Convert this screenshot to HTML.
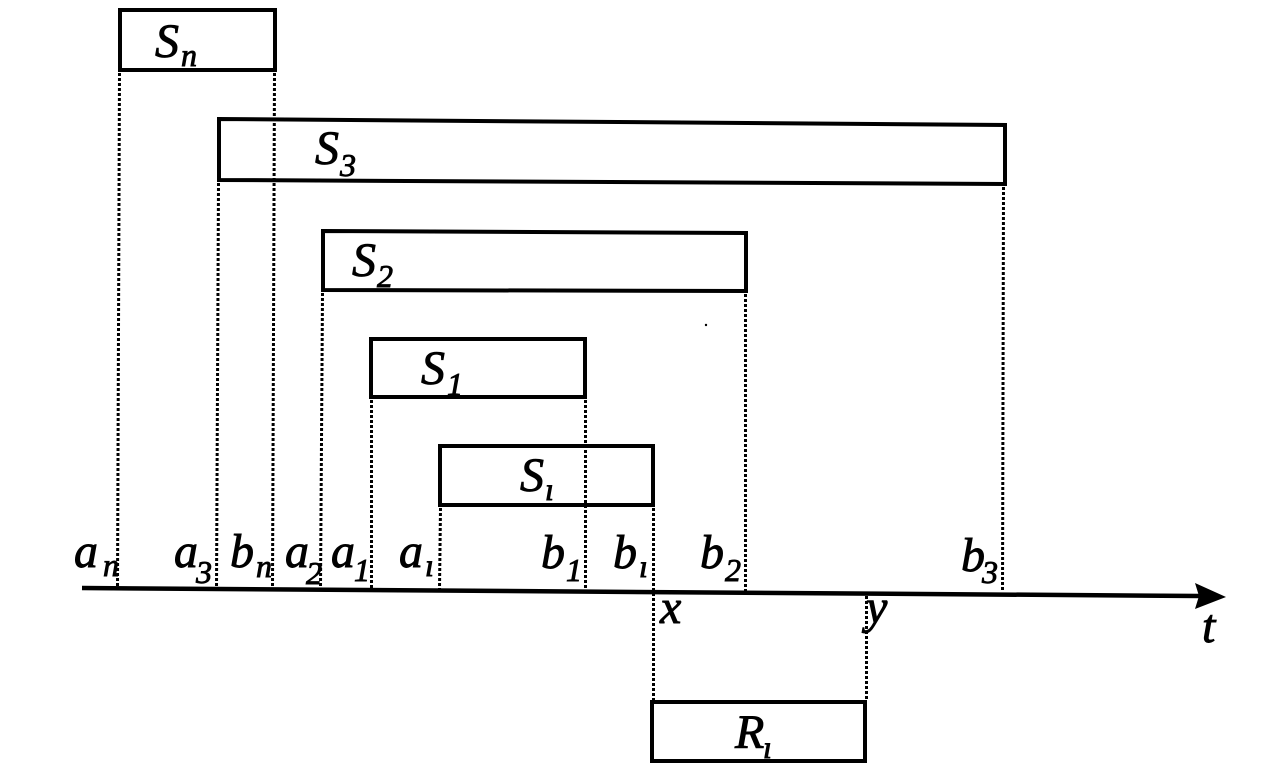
<!DOCTYPE html>
<html>
<head>
<meta charset="utf-8">
<style>
  html, body { margin: 0; padding: 0; background: #fff; }
  body { width: 1280px; height: 778px; overflow: hidden; }
  svg { display: block; }
  text { font-family: "Liberation Serif", serif; font-style: italic; fill: #000; stroke: #000; stroke-width: 0.9px; }
  .m { font-size: 48px; }
  .s { font-size: 32px; }
</style>
</head>
<body>
<svg width="1280" height="778" viewBox="0 0 1280 778" xmlns="http://www.w3.org/2000/svg">
  <!-- dotted guide lines -->
  <g stroke="#000" stroke-width="3" stroke-dasharray="3 2" fill="none">
    <line x1="119.5" y1="73" x2="117.5" y2="587"/>
    <line x1="274.5" y1="73" x2="272.5" y2="588"/>
    <line x1="218.5" y1="183" x2="216.5" y2="588"/>
    <line x1="322.5" y1="293" x2="320.5" y2="588"/>
    <line x1="371.5" y1="400" x2="371.5" y2="589"/>
    <line x1="440.5" y1="508" x2="439.5" y2="589"/>
    <line x1="585.5" y1="400" x2="585.5" y2="590"/>
    <line x1="653.5" y1="508" x2="653.5" y2="700"/>
    <line x1="745.5" y1="294" x2="745.5" y2="591"/>
    <line x1="866.5" y1="596" x2="866.5" y2="700"/>
    <line x1="1003.5" y1="187" x2="1002.5" y2="592"/>
  </g>

  <!-- boxes -->
  <g stroke="#000" stroke-width="4" fill="none" stroke-linejoin="miter">
    <rect x="120" y="10" width="155" height="60"/>
    <polygon points="219,119 1005,125 1005,184 219,180"/>
    <polygon points="323,231 746,233 746,291 323,290"/>
    <rect x="371" y="339" width="214" height="58"/>
    <rect x="440" y="446" width="213" height="59"/>
    <rect x="652" y="702" width="213" height="59"/>
  </g>

  <!-- axis -->
  <line x1="82" y1="588" x2="1200" y2="596" stroke="#000" stroke-width="4.5"/>
  <polygon points="1195,583 1226,597 1195,609 1199,596" fill="#000"/>

  <!-- box labels -->
  <text class="m" x="155" y="57">S</text><text class="s" x="181" y="66">n</text>
  <text class="m" x="315" y="164">S</text><text class="s" x="340" y="176">3</text>
  <text class="m" x="352" y="276">S</text><text class="s" x="377" y="287">2</text>
  <text class="m" x="421" y="384">S</text><text class="s" x="447" y="395">1</text>
  <text class="m" x="520" y="491">S</text><text class="s" x="545" y="500">ı</text>
  <text class="m" x="735" y="748">R</text><text class="s" x="763" y="758">ı</text>

  <!-- axis labels -->
  <text class="m" x="74" y="567">a</text><text class="s" x="103" y="576">n</text>
  <text class="m" x="174" y="567">a</text><text class="s" x="196" y="583">3</text>
  <text class="m" x="230" y="567">b</text><text class="s" x="256" y="577">n</text>
  <text class="m" x="285" y="567">a</text><text class="s" x="306" y="584">2</text>
  <text class="m" x="331" y="567">a</text><text class="s" x="354" y="581">1</text>
  <text class="m" x="399" y="567">a</text><text class="s" x="425" y="576">ı</text>
  <text class="m" x="541" y="568">b</text><text class="s" x="566" y="581">1</text>
  <text class="m" x="613" y="568">b</text><text class="s" x="639" y="577">ı</text>
  <text class="m" x="700" y="568">b</text><text class="s" x="725" y="581">2</text>
  <text class="m" x="961" y="571">b</text><text class="s" x="982" y="583">3</text>
  <text class="m" x="660" y="623">x</text>
  <text class="m" x="866" y="623">y</text>
  <text class="m" x="1202" y="642">t</text>

  <!-- small speck -->
  <circle cx="706" cy="325" r="1.2" fill="#000"/>
</svg>
</body>
</html>
